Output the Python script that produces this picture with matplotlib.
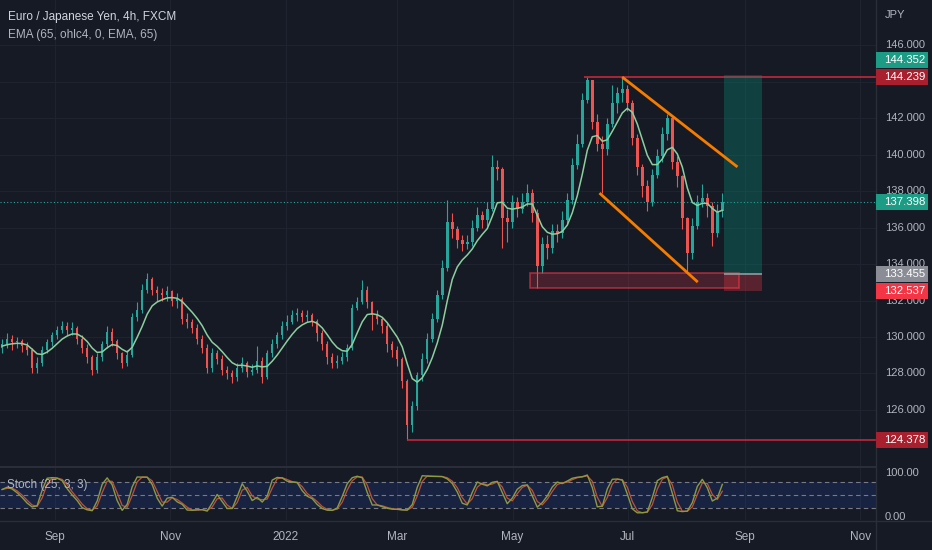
"""EUR/JPY 4h chart with EMA and stochastic, dark theme."""

import matplotlib
matplotlib.use("Agg")
import matplotlib.pyplot as plt
import matplotlib.dates as mdates
import matplotlib.transforms as mtransforms
from matplotlib.patches import Rectangle
import numpy as np
import pandas as pd

# ---- price data (one candle per ~2.6 days) ----
BAR_START = "2021-08-04"
BAR_STEP_HOURS = 63.5

close = [
    129.6, 129.9, 129.7, 129.8, 129.5, 129.3, 128.3, 128.6, 129.3, 129.7,
    130.1, 130.4, 130.6, 130.4, 130.5, 129.9, 129.4, 128.9, 128.2, 128.9,
    129.6, 130.3, 129.8, 129.1, 128.6, 129.0, 131.1, 131.5, 132.6, 133.2,
    132.6, 132.4, 132.3, 132.5, 132.0, 132.1, 131.0, 130.8, 130.5, 129.9,
    129.4, 128.3, 129.1, 128.8, 128.2, 128.0, 127.8, 128.3, 128.6, 128.1,
    128.2, 128.7, 127.8, 129.1, 129.6, 130.1, 130.6, 130.8, 131.2, 131.3,
    131.1, 131.2, 130.9, 130.2, 129.6, 128.9, 128.6, 128.7, 128.9, 129.4,
    131.6, 131.9, 132.6, 131.9, 131.2, 131.0, 130.6, 129.6, 129.3, 128.8,
    127.6, 125.2, 126.2, 127.9, 128.8, 129.9, 131.0, 132.3, 133.8, 136.3,
    135.9, 135.3, 135.1, 135.2, 136.0, 136.7, 136.4, 137.0, 139.3, 139.2,
    136.5, 136.3, 137.4, 137.0, 137.4, 137.9, 136.8, 133.9, 135.1, 134.9,
    135.8, 135.7, 136.4, 137.5, 139.4, 140.6, 143.0, 144.1, 141.8, 140.6,
    140.3, 141.7, 142.8, 143.4, 143.6, 142.8, 140.9, 139.3, 138.3, 137.4,
    138.9, 139.9, 141.1, 142.0, 139.6, 138.8, 136.5, 134.6, 136.1, 137.4,
    137.6, 137.2, 135.7, 136.9, 137.398,
]
high = [
    129.9, 130.2, 130.1, 130.0, 129.9, 129.7, 129.4, 128.9, 129.5, 129.9,
    130.3, 130.6, 130.9, 130.8, 130.8, 130.6, 130.1, 129.6, 129.0, 129.1,
    129.8, 130.6, 130.5, 129.9, 129.2, 129.3, 131.3, 131.9, 132.9, 133.5,
    133.3, 132.8, 132.7, 132.8, 132.6, 132.4, 132.2, 131.3, 131.0, 130.7,
    130.1, 129.6, 129.4, 129.3, 129.0, 128.4, 128.2, 128.6, 128.9, 128.7,
    128.5, 129.5, 128.9, 129.3, 129.9, 130.3, 130.9, 131.2, 131.5, 131.6,
    131.5, 131.5, 131.3, 131.0, 130.4, 129.8, 129.1, 129.0, 129.2, 129.6,
    131.8, 132.2, 133.1, 132.8, 132.0, 131.5, 131.1, 130.8, 129.8, 129.5,
    128.9, 127.7, 126.5, 128.1, 129.1, 130.2, 131.3, 132.6, 134.2, 137.5,
    136.8, 136.1, 135.6, 135.6, 136.4, 137.1, 136.9, 137.4, 140.0, 139.7,
    139.3, 137.0, 137.8, 137.7, 137.9, 138.4, 138.1, 137.0, 135.5, 135.6,
    136.2, 136.2, 136.9, 137.9, 139.8, 141.1, 143.4, 144.239, 144.0, 142.2,
    141.0, 142.0, 143.8, 143.7, 144.2, 143.8, 143.0, 141.1, 139.5, 138.6,
    139.2, 140.3, 141.5, 142.2, 142.1, 139.9, 138.9, 136.6, 136.5, 137.8,
    138.4, 137.9, 137.4, 137.3, 137.9,
]
low = [
    129.1, 129.4, 129.3, 129.4, 129.2, 129.0, 128.0, 128.0, 128.4, 129.1,
    129.5, 129.9, 130.2, 130.1, 130.1, 129.6, 129.1, 128.6, 127.9, 128.0,
    128.7, 129.4, 129.5, 128.8, 128.3, 128.4, 128.9, 130.9, 131.3, 132.4,
    132.3, 132.0, 132.0, 132.0, 131.7, 131.6, 130.7, 130.5, 130.2, 129.6,
    129.1, 128.0, 128.1, 128.5, 127.9, 127.7, 127.5, 127.6, 128.1, 127.8,
    127.9, 128.0, 127.5, 127.7, 128.9, 129.4, 129.9, 130.4, 130.7, 130.9,
    130.8, 130.8, 130.6, 129.8, 129.3, 128.5, 128.3, 128.3, 128.5, 128.7,
    129.3, 131.5, 131.8, 131.6, 130.4, 130.7, 130.2, 129.2, 128.9, 128.4,
    127.2, 124.378, 124.8, 126.0, 127.6, 128.6, 129.7, 130.8, 132.1, 133.6,
    135.4, 134.9, 134.7, 134.8, 135.0, 135.8, 136.0, 136.1, 136.9, 138.6,
    134.9, 135.2, 136.0, 136.6, 136.8, 137.2, 136.3, 132.7, 133.5, 134.3,
    134.6, 135.2, 135.4, 136.2, 137.3, 139.2, 140.4, 142.8, 141.4, 140.2,
    137.9, 140.0, 141.5, 142.3, 142.9, 142.4, 140.5, 138.9, 137.7, 136.9,
    137.2, 138.7, 139.6, 140.8, 139.2, 138.2, 135.9, 133.5, 134.3, 135.9,
    137.1, 136.6, 135.0, 135.5, 136.6,
]
FIRST_OPEN = 129.4

# ---- chart drawings ----
resistance_price = 144.239
resistance_start = "2022-06-08"
low_price = 124.378
low_start = "2022-03-06"
channel_upper = [("2022-06-28", 144.25), ("2022-08-28", 139.32)]
channel_lower = [("2022-06-16", 137.89), ("2022-08-07", 133.01)]
zone_dates = ("2022-05-10", "2022-08-29")
zone_prices = (132.68, 133.51)
position_dates = ("2022-08-21", "2022-09-10")
target_price = 144.352
entry_price = 133.455
stop_price = 132.537

# 144.000 is hidden behind the resistance tag on the original
price_ticks = [126, 128, 130, 132, 134, 136, 138, 140, 142, 146]
time_ticks = ["2021-09-01", "2021-11-01", "2022-01-01", "2022-03-01",
              "2022-05-01", "2022-07-01", "2022-09-01", "2022-11-01"]
time_labels = ["Sep", "Nov", "2022", "Mar", "May", "Jul", "Sep", "Nov"]

BG = "#161a25"
GRID = "#1f2330"
TXT = "#b2b5be"
UP = "#26a69a"
DOWN = "#ef5350"

plt.rcParams["font.family"] = ["Liberation Sans", "DejaVu Sans"]

close = np.array(close)
high = np.array(high)
low = np.array(low)
opn = np.concatenate([[FIRST_OPEN], close[:-1]])
dates = pd.Timestamp(BAR_START) + pd.to_timedelta(np.arange(len(close)) * BAR_STEP_HOURS, unit="h")
x = mdates.date2num(dates.to_pydatetime())
step = x[1] - x[0]

# EMA 65 on 4h bars ~ 15 calendar days -> span in our bars
ohlc4 = pd.Series((opn + high + low + close) / 4.0)
ema = ohlc4.ewm(span=6, adjust=False).mean().values

# stochastic on the same bars
hh = pd.Series(high).rolling(3, min_periods=1).max()
ll = pd.Series(low).rolling(3, min_periods=1).min()
k_raw = 100 * (pd.Series(close) - ll) / (hh - ll)
stoch_k = k_raw.rolling(2, min_periods=1).mean()
stoch_d = stoch_k.rolling(2, min_periods=1).mean()

W, H = 932, 550
fig = plt.figure(figsize=(W / 100, H / 100), dpi=100, facecolor=BG)

ax = fig.add_axes([0, (H - 466) / H, 876 / W, 466 / H], facecolor=BG)
ax_st = fig.add_axes([0, (H - 520) / H, 876 / W, 53 / H], facecolor=BG)


def d2n(s):
    return mdates.date2num(pd.Timestamp(s).to_pydatetime())


xlim = (d2n("2021-08-02 21:00"), d2n("2022-11-09 07:00"))
tick_x = [d2n(t) for t in time_ticks]

for a in (ax, ax_st):
    a.set_xlim(*xlim)
    for s in a.spines.values():
        s.set_visible(False)
    a.set_xticks([])
    a.set_yticks([])
    for tx in tick_x:
        a.axvline(tx, color=GRID, lw=0.8, zorder=0)

ax.set_ylim(122.93, 148.47)
for p in price_ticks + [144]:
    ax.axhline(p, color=GRID, lw=0.8, zorder=0)

# candles
colors = np.where(close >= opn, UP, DOWN)
ax.vlines(x, low, high, colors=colors, lw=0.8, zorder=2)
body_lo = np.minimum(opn, close)
body_h = np.maximum(np.abs(close - opn), 0.05)
ax.bar(x, body_h, bottom=body_lo, width=step * 0.5, color=colors, zorder=3, linewidth=0)

ax.plot(x, ema, color="#8ccf9e", lw=1.1, zorder=4)

# last price dotted line
ax.axhline(close[-1], color=UP, lw=0.8, ls=(0, (1, 2)), zorder=1)

# horizontal levels
ax.hlines(resistance_price, d2n(resistance_start), xlim[1], color="#c2283a", lw=1.2, zorder=5)
ax.hlines(low_price, d2n(low_start), xlim[1], color="#c2283a", lw=1.2, zorder=5)

# channel lines
for seg in (channel_upper, channel_lower):
    ax.plot([d2n(seg[0][0]), d2n(seg[1][0])], [seg[0][1], seg[1][1]],
            color="#f57c00", lw=2, solid_capstyle="butt", zorder=6)

# demand zone
zx0, zx1 = d2n(zone_dates[0]), d2n(zone_dates[1])
ax.add_patch(Rectangle((zx0, zone_prices[0]), zx1 - zx0, zone_prices[1] - zone_prices[0],
                       facecolor="#f23645", alpha=0.22, edgecolor="none", zorder=5))
ax.add_patch(Rectangle((zx0, zone_prices[0]), zx1 - zx0, zone_prices[1] - zone_prices[0],
                       facecolor="none", edgecolor="#f23645", alpha=0.6, lw=1.2, zorder=5))

# long position tool
px0, px1 = d2n(position_dates[0]), d2n(position_dates[1])
ax.add_patch(Rectangle((px0, entry_price), px1 - px0, target_price - entry_price,
                       facecolor="#089981", alpha=0.3, edgecolor="none", zorder=5))
ax.add_patch(Rectangle((px0, stop_price), px1 - px0, entry_price - stop_price,
                       facecolor="#f23645", alpha=0.3, edgecolor="none", zorder=5))
ax.hlines(entry_price, px0, px1, color="#9598a1", lw=1.2, zorder=6)

# stochastic pane
ax_st.set_ylim(-6.8, 113.6)
ax_st.axhspan(20, 80, color="#2962ff", alpha=0.13, lw=0, zorder=0)
for lvl in (80, 50, 20):
    ax_st.axhline(lvl, color="#787b86", lw=0.8, ls=(0, (4, 3)), zorder=1)
ax_st.plot(x, stoch_d, color="#c0503c", lw=0.9, zorder=2)
ax_st.plot(x, stoch_k, color="#8c9a42", lw=1.0, zorder=3)
fig.text(7 / W, 1 - 485 / H, "Stoch (25, 3, 3)", color=TXT, fontsize=8.5, va="center", zorder=5)

# panel borders
fig.add_artist(plt.Line2D([876 / W] * 2, [0, 1], color="#2a2e39", lw=1))
fig.add_artist(plt.Line2D([0, 876 / W], [(H - 467) / H] * 2, color="#2a2e39", lw=1.5))
fig.add_artist(plt.Line2D([0, 1], [(H - 521) / H] * 2, color="#2a2e39", lw=1))

# price axis labels
tr = mtransforms.blended_transform_factory(fig.transFigure, ax.transData)
for p in price_ticks:
    fig.text(885 / W, p, f"{p:.3f}", transform=tr, color=TXT, fontsize=8, va="center", zorder=1)
fig.text(885 / W, 1 - 15 / H, "JPY", color=TXT, fontsize=8, va="center")
tr_st = mtransforms.blended_transform_factory(fig.transFigure, ax_st.transData)
fig.text(885 / W, 100, "100.00", transform=tr_st, color=TXT, fontsize=8, va="center")
fig.text(885 / W, 0, "0.00", transform=tr_st, color=TXT, fontsize=8, va="center")

# coloured price tags: (price, shown at price, colour); the target tag is lifted
# above the resistance tag the way the platform stacks them
tags = [
    (target_price, target_price + 0.82, "#1c9b85"),
    (resistance_price, resistance_price, "#a81f2d"),
    (close[-1], close[-1], "#1c9b85"),
    (entry_price, entry_price, "#8a8d96"),
    (stop_price, stop_price, "#f23645"),
    (low_price, low_price, "#a81f2d"),
]
tag_h = 16 / 18.25
for value, shown, col in tags:
    fig.add_artist(Rectangle((876 / W, shown - tag_h / 2), 52 / W, tag_h, transform=tr,
                             facecolor=col, edgecolor="none", zorder=3))
    fig.text(884 / W, shown, f"{value:.3f}", transform=tr, color="white", fontsize=8.2,
             va="center", zorder=4)

# time axis labels
tr_t = mtransforms.blended_transform_factory(ax_st.transData, fig.transFigure)
for tx, lab in zip(tick_x, time_labels):
    ax_st.text(tx, 1 - 537 / H, lab, transform=tr_t, color=TXT, fontsize=8.5,
               ha="center", va="center")

# legend text
fig.text(8 / W, 1 - 17 / H, "Euro / Japanese Yen, 4h, FXCM", color="#d1d4dc", fontsize=8.5, va="center")
fig.text(8 / W, 1 - 35 / H, "EMA (65, ohlc4, 0, EMA, 65)", color=TXT, fontsize=8.5, va="center")

fig.savefig("out.png", dpi=100, facecolor=BG)
